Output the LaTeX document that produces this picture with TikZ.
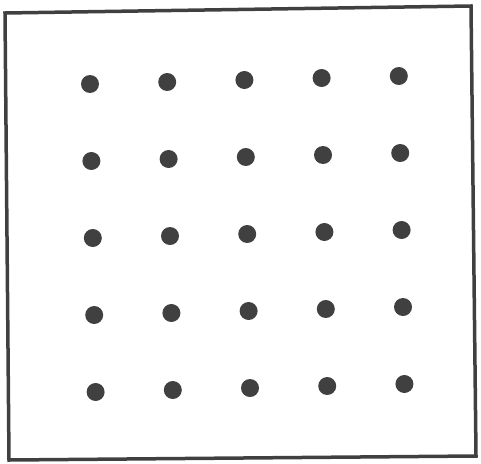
\documentclass[tikz,border=0pt]{standalone}
\begin{document}
\begin{tikzpicture}[x=1pt, y=-1pt, every node/.style={inner sep=0pt}]
    \tikzset{gridpt/.style={circle, fill=black!75, minimum size=18pt}}
    \useasboundingbox (0,0) rectangle (481,463);
    % slightly tilted frame
    \draw[line width=3.5pt, black!75] (5,13) -- (471,6) -- (476,456) -- (9,460) -- cycle;
    \foreach \i in {0,1,...,4} {
        \foreach \j in {0,1,...,4} {
            \pgfmathsetmacro{\px}{90+77.2*\i+1.4*\j}
            \pgfmathsetmacro{\py}{84+77*\j-2*\i}
            \node[gridpt] (dot-\i-\j) at (\px,\py) {};
        }
    }
\end{tikzpicture}
\end{document}
